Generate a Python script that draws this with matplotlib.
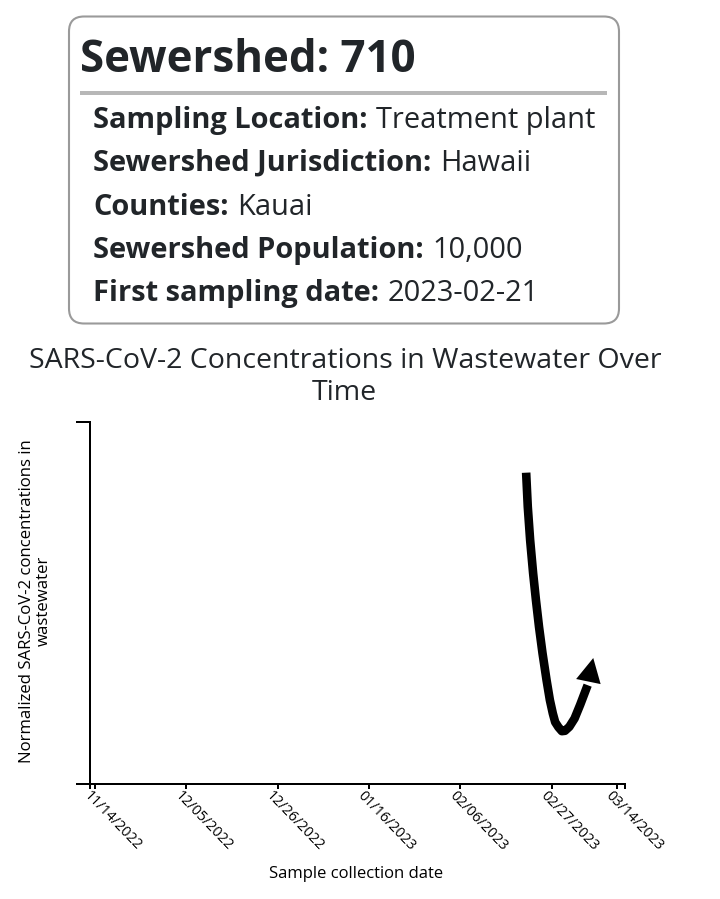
import os
os.environ.setdefault("MPLBACKEND", "Agg")
import matplotlib.pyplot as plt
import matplotlib.dates as mdates
import pandas as pd
from matplotlib.patches import FancyBboxPatch, Rectangle
from matplotlib.transforms import ScaledTranslation

plt.rcParams["font.family"] = ["Open Sans", "DejaVu Sans"]

# values
CARD_TITLE = "Sewershed: 710"
CARD_KEYS = ["Sampling Location:", "Sewershed Jurisdiction:", "Counties:",
             "Sewershed Population:", "First sampling date:"]
CARD_VALUES = ["Treatment plant", "Hawaii", "Kauai", "10,000", "2023-02-21"]

sample_dates = ["2023-02-21 02:00", "2023-02-21 11:00", "2023-02-22 00:00", "2023-02-22 16:30",
                "2023-02-23 08:00", "2023-02-24 01:00", "2023-02-24 20:00", "2023-02-25 18:30",
                "2023-02-26 12:45", "2023-02-27 05:00", "2023-02-27 18:00", "2023-02-28 12:00",
                "2023-03-01 07:00", "2023-03-02 00:00", "2023-03-03 00:00", "2023-03-04 05:00",
                "2023-03-05 12:00", "2023-03-07 05:00"]
concentrations = [86.0, 76.6, 67.4, 58.2, 50.8, 43.4, 36.2, 28.7, 23.2, 19.5, 17.1, 15.7,
                  14.6, 14.7, 15.8, 18.1, 21.9, 27.3]
arrow_tip_date = "2023-03-08 12:00"
arrow_tip_value = 34.8

tick_dates = ["2022-11-14", "2022-12-05", "2022-12-26", "2023-01-16",
              "2023-02-06", "2023-02-27", "2023-03-14"]
x_start = "2022-11-12 21:30"
x_end = "2023-03-15 19:00"

DARK = "#212529"

fig = plt.figure(figsize=(7.2, 8.99), dpi=100)

# chart
ax = fig.add_axes([90 / 720, (899 - 784) / 899, 535 / 720, 362 / 899])
dates = pd.to_datetime(sample_dates)
ax.plot(dates, concentrations, color="black", lw=6.2, solid_capstyle="butt", solid_joinstyle="round")
ax.annotate("", xy=(mdates.date2num(pd.Timestamp(arrow_tip_date)), arrow_tip_value),
            xytext=(mdates.date2num(dates[-1]), concentrations[-1]),
            arrowprops=dict(arrowstyle="-|>,head_length=17.3,head_width=9", mutation_scale=1,
                            color="black", lw=0, shrinkA=0, shrinkB=0))

ax.set_xlim(pd.Timestamp(x_start), pd.Timestamp(x_end))
ax.set_ylim(0, 100)
ax.spines["top"].set_visible(False)
ax.spines["right"].set_visible(False)
ax.spines["left"].set_linewidth(1.44)
ax.spines["bottom"].set_linewidth(1.44)

tick_pos = pd.to_datetime(tick_dates)
ax.set_xticks(tick_pos)
ax.set_xticklabels([d.strftime("%m/%d/%Y") for d in tick_pos])
ax.set_xticks(mdates.date2num(pd.to_datetime([x_start, x_end])), minor=True)
ax.tick_params(axis="x", which="both", length=3.6, width=1.44, pad=3)
ax.set_yticks([0, 100])
ax.set_yticklabels([])
ax.tick_params(axis="y", length=10, width=1.44)

shift = ScaledTranslation(-9 / 100, 0, fig.dpi_scale_trans)
for lab in ax.get_xticklabels():
    lab.set_rotation(-46)
    lab.set_rotation_mode("anchor")
    lab.set_ha("left")
    lab.set_va("center")
    lab.set_fontsize(10.4)
    lab.set_transform(lab.get_transform() + shift)

# everything else in pixel coordinates of the page
page = fig.add_axes([0, 0, 1, 1], zorder=-1)
page.set_xlim(0, 720)
page.set_ylim(899, 0)
page.axis("off")

page.add_patch(FancyBboxPatch((69, 16.5), 550, 307, boxstyle="round,pad=0,rounding_size=15",
                              fc="white", ec="#9a9a9a", lw=1.5))
page.add_patch(Rectangle((80, 91), 527, 4, fc="#b7b7b7", ec="none"))
page.text(80, 72, CARD_TITLE, fontsize=31.6, fontweight="bold", color=DARK, va="baseline")

rend = fig.canvas.get_renderer()
row_y = [128, 171, 215, 258, 301]
for key, val, y in zip(CARD_KEYS, CARD_VALUES, row_y):
    t = page.text(93, y, key, fontsize=20.9, fontweight="bold", color=DARK, va="baseline")
    box = t.get_window_extent(rend)
    page.text(box.x1 + 9, y, val, fontsize=20.9, color=DARK, va="baseline")

page.text(345, 368, "SARS-CoV-2 Concentrations in Wastewater Over", fontsize=20.5, color=DARK,
          ha="center", va="baseline")
page.text(344, 400, "Time", fontsize=20.5, color=DARK, ha="center", va="baseline")

page.text(27, 601, "Normalized SARS-CoV-2 concentrations in", fontsize=12.1, rotation=90,
          ha="center", va="center")
page.text(44, 601, "wastewater", fontsize=12.1, rotation=90, ha="center", va="center")
page.text(356, 874, "Sample collection date", fontsize=12, ha="center", va="center")

ax.patch.set_alpha(0)
fig.savefig("out.png", dpi=100)
